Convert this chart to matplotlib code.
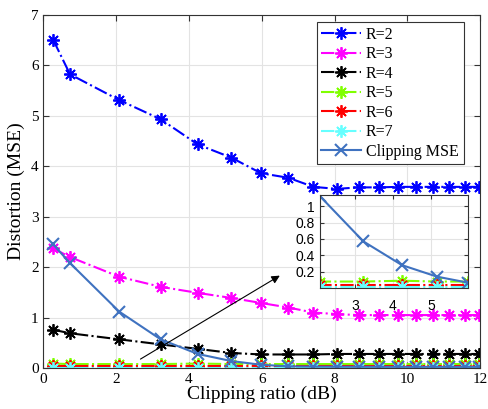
import matplotlib
matplotlib.use('Agg')
import matplotlib.pyplot as plt

# clipping ratio in dB
clip_db = [0.27, 0.73, 2.08, 3.22, 4.24, 5.16, 5.98, 6.73, 7.42, 8.06,
           8.66, 9.22, 9.74, 10.24, 10.70, 11.15, 11.57, 11.98]

r2 = [6.50, 5.82, 5.31, 4.93, 4.43, 4.17, 3.86, 3.77, 3.59, 3.55,
      3.58, 3.58, 3.59, 3.59, 3.59, 3.59, 3.59, 3.59]
r3 = [2.37, 2.20, 1.81, 1.61, 1.49, 1.39, 1.29, 1.20, 1.10, 1.07,
      1.05, 1.05, 1.05, 1.05, 1.05, 1.05, 1.05, 1.05]
r4 = [0.76, 0.69, 0.57, 0.47, 0.38, 0.30, 0.27, 0.27, 0.27, 0.28,
      0.28, 0.28, 0.28, 0.28, 0.28, 0.28, 0.28, 0.28]
r5 = [0.09, 0.08, 0.08, 0.08, 0.09, 0.08, 0.08, 0.08, 0.08, 0.08,
      0.08, 0.08, 0.08, 0.08, 0.08, 0.08, 0.08, 0.08]
r6 = [0.035] * 18
r7 = [0.01] * 18
clip_mse = [2.45, 2.08, 1.12, 0.57, 0.28, 0.14, 0.066, 0.035, 0.03, 0.028,
            0.027, 0.026, 0.025, 0.025, 0.025, 0.025, 0.025, 0.025]

series = [('R=2', r2, '#0000ff'), ('R=3', r3, '#ff00ff'),
          ('R=4', r4, '#000000'), ('R=5', r5, '#80ff00'),
          ('R=6', r6, '#ff0000'), ('R=7', r7, '#66ffff')]
clip_color = '#3f72c0'
star = (8, 2, 0)

plt.rcParams['font.family'] = ['Liberation Serif', 'DejaVu Serif']
plt.rcParams['mathtext.default'] = 'regular'

fig = plt.figure(figsize=(4.88, 4.09), dpi=100)
ax = fig.add_axes([0.089, 0.100, 0.895, 0.864])

for name, vals, col in series:
    ax.plot(clip_db, vals, linestyle='-.', color=col, lw=1.5,
            marker=star, ms=9, mec=col, mew=1.3, label=name)
ax.plot(clip_db, clip_mse, '-', color=clip_color, lw=1.5,
        marker='x', ms=8, mew=1.5, label='Clipping MSE')

ax.set_xlim(0, 12)
ax.set_ylim(0, 7)
ax.set_xticks(range(0, 13, 2))
ax.set_yticks(range(0, 8))
ax.grid(True, color='#e3e3e3', lw=0.8)
ax.set_axisbelow(True)
ax.tick_params(direction='in', top=True, right=True, labelsize=11,
               length=4, color='#333333')
for s in ax.spines.values():
    s.set_color('#333333')
    s.set_linewidth(0.8)
ax.set_xlabel('Clipping ratio (dB)', fontsize=14, labelpad=0)
ax.set_ylabel('Distortion (MSE)', fontsize=14, labelpad=4)

leg = ax.legend(loc='upper right', bbox_to_anchor=(0.962, 0.980),
                borderaxespad=0, fontsize=11.5, handlelength=2.5,
                handletextpad=0.3, borderpad=0.3, labelspacing=0.22,
                fancybox=False, framealpha=1, edgecolor='#333333')
leg.get_frame().set_linewidth(0.8)

ax.annotate('', xy=(6.56, 1.86), xytext=(2.6, 0.15),
            arrowprops=dict(arrowstyle='-|>', color='black', lw=0.8,
                            mutation_scale=12))

# zoomed inset
ins = fig.add_axes([0.656, 0.2956, 0.303, 0.2274])
for name, vals, col in series[3:]:
    ins.plot(clip_db, vals, linestyle='-.', color=col, lw=1.5,
             marker=star, ms=9, mec=col, mew=1.3)
ins.plot(clip_db, clip_mse, '-', color=clip_color, lw=1.5,
         marker='x', ms=8, mew=1.5)
ins.set_xlim(2.08, 5.98)
ins.set_ylim(0, 1.135)
ins.set_xticks([3, 4, 5])
ins.set_yticks([0.2, 0.4, 0.6, 0.8, 1.0])
ins.set_yticklabels(['0.2', '0.4', '0.6', '0.8', '1'])
ins.grid(True, color='#e3e3e3', lw=0.8)
ins.set_axisbelow(True)
ins.tick_params(direction='in', top=True, right=True, labelsize=10,
                length=3, pad=4, color='#333333')
ins.tick_params(axis='x', pad=8)
for lab in ins.get_xticklabels() + ins.get_yticklabels():
    lab.set_family(['Liberation Sans', 'DejaVu Sans'])
for s in ins.spines.values():
    s.set_color('#333333')
    s.set_linewidth(0.8)

fig.savefig('out.png', dpi=100)
